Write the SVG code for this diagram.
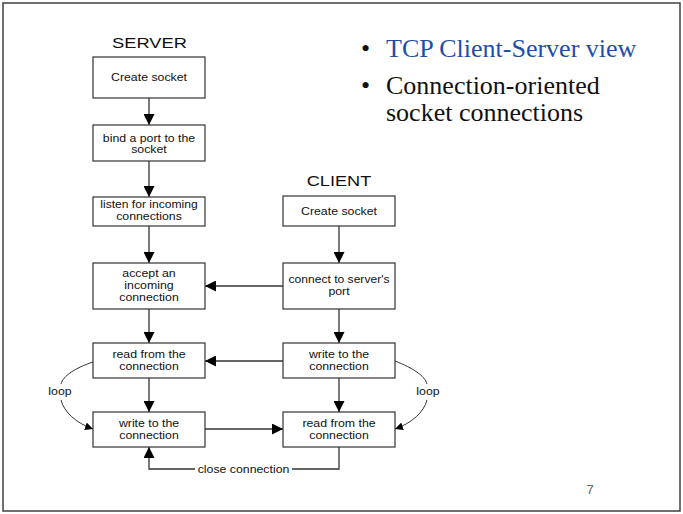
<svg xmlns="http://www.w3.org/2000/svg" width="683" height="514" viewBox="0 0 683 514">
<style>
.box{fill:#fff;stroke:#333;stroke-width:1.2}
.t{font-family:"Liberation Sans",Arial,sans-serif;font-size:10.8px;fill:#111;text-anchor:middle}
.h{font-family:"Liberation Sans",Arial,sans-serif;font-size:15px;fill:#111;text-anchor:middle}
.c{fill:none;stroke:#333;stroke-width:1.3}
.cv{fill:none;stroke:#333;stroke-width:1}
.tt{font-family:"Liberation Serif","Times New Roman",serif;font-size:26px}
</style>
<defs>
<marker id="ah" markerUnits="userSpaceOnUse" markerWidth="11" markerHeight="11" viewBox="0 0 10 10" refX="10" refY="5" orient="auto"><path d="M0,0 L10,5 L0,10 z" fill="#000"/></marker>
<marker id="as" markerUnits="userSpaceOnUse" markerWidth="8" markerHeight="8" viewBox="0 0 10 10" refX="10" refY="5" orient="auto"><path d="M0,0 L10,5 L0,10 z" fill="#000"/></marker>
</defs>
<rect x="3" y="3" width="677" height="508" fill="#fff" stroke="#404040" stroke-width="1.5"/>
<g id="title">
<text class="tt" x="361" y="57" fill="#111">•</text>
<text class="tt" x="386" y="57" fill="#1c4fa8">TCP Client-Server view</text>
<text class="tt" x="361" y="94" fill="#111">•</text>
<text class="tt" x="386" y="94" fill="#111">Connection-oriented</text>
<text class="tt" x="386" y="121" fill="#111">socket connections</text>
</g>
<text class="h" transform="matrix(1.22 0 0 1 149.5 47.5)">SERVER</text>
<text class="h" transform="matrix(1.21 0 0 1 339 185.5)">CLIENT</text>
<g id="connectors">
<path class="c" d="M149,98 V125" marker-end="url(#ah)"/>
<path class="c" d="M149,161 V197" marker-end="url(#ah)"/>
<path class="c" d="M149,226 V263" marker-end="url(#ah)"/>
<path class="c" d="M149,309 V343" marker-end="url(#ah)"/>
<path class="c" d="M149,378 V412" marker-end="url(#ah)"/>
<path class="c" d="M339,226 V263" marker-end="url(#ah)"/>
<path class="c" d="M339,309 V343" marker-end="url(#ah)"/>
<path class="c" d="M339,378 V412" marker-end="url(#ah)"/>
<path class="c" d="M283,286 H205" marker-end="url(#ah)"/>
<path class="c" d="M283,361 H205" marker-end="url(#ah)"/>
<path class="c" d="M205,429 H283" marker-end="url(#ah)"/>
<path class="c" d="M339,447 V469 H292"/>
<path class="c" d="M195,469 H149 V447" marker-end="url(#ah)"/>
<text class="t" transform="matrix(1.14 0 0 1 243.5 472.5)">close connection</text>
<path class="cv" d="M93,362 C75,368 63,376 61,384"/>
<path class="cv" d="M61,400 C64,412 76,423 93,429" marker-end="url(#as)"/>
<text class="t" transform="matrix(1.14 0 0 1 60 394.5)">loop</text>
<path class="cv" d="M395,361 C413,368 425,376 427,384"/>
<path class="cv" d="M427,400 C424,412 412,423 395,429" marker-end="url(#as)"/>
<text class="t" transform="matrix(1.14 0 0 1 428 394.5)">loop</text>
</g>
<g id="s-create"><rect class="box" x="93" y="57" width="112" height="41"/><text class="t" transform="matrix(1.14 0 0 1 149 81)">Create socket</text></g>
<g id="s-bind"><rect class="box" x="93" y="125" width="112" height="36"/><text class="t" transform="matrix(1.14 0 0 1 149 141.5)">bind a port to the</text><text class="t" transform="matrix(1.14 0 0 1 149 153)">socket</text></g>
<g id="s-listen"><rect class="box" x="93" y="197" width="112" height="29"/><text class="t" transform="matrix(1.12 0 0 1 149 208)">listen for incoming</text><text class="t" transform="matrix(1.14 0 0 1 149 219.5)">connections</text></g>
<g id="s-accept"><rect class="box" x="93" y="263" width="112" height="46"/><text class="t" transform="matrix(1.14 0 0 1 149 277)">accept an</text><text class="t" transform="matrix(1.14 0 0 1 149 289)">incoming</text><text class="t" transform="matrix(1.14 0 0 1 149 301)">connection</text></g>
<g id="s-read"><rect class="box" x="93" y="343" width="112" height="35"/><text class="t" transform="matrix(1.14 0 0 1 149 358)">read from the</text><text class="t" transform="matrix(1.14 0 0 1 149 370)">connection</text></g>
<g id="s-write"><rect class="box" x="93" y="412" width="112" height="35"/><text class="t" transform="matrix(1.14 0 0 1 149 427)">write to the</text><text class="t" transform="matrix(1.14 0 0 1 149 439)">connection</text></g>
<g id="c-create"><rect class="box" x="283" y="196" width="112" height="30"/><text class="t" transform="matrix(1.14 0 0 1 339 214.5)">Create socket</text></g>
<g id="c-connect"><rect class="box" x="283" y="263" width="112" height="46"/><text class="t" transform="matrix(1.12 0 0 1 339 283)">connect to server's</text><text class="t" transform="matrix(1.14 0 0 1 339 295)">port</text></g>
<g id="c-write"><rect class="box" x="283" y="343" width="112" height="35"/><text class="t" transform="matrix(1.14 0 0 1 339 358)">write to the</text><text class="t" transform="matrix(1.14 0 0 1 339 370)">connection</text></g>
<g id="c-read"><rect class="box" x="283" y="412" width="112" height="35"/><text class="t" transform="matrix(1.14 0 0 1 339 427)">read from the</text><text class="t" transform="matrix(1.14 0 0 1 339 439)">connection</text></g>
<text x="590" y="494" font-family="'Liberation Sans',Arial,sans-serif" font-size="13" fill="#666" text-anchor="middle">7</text>
</svg>
